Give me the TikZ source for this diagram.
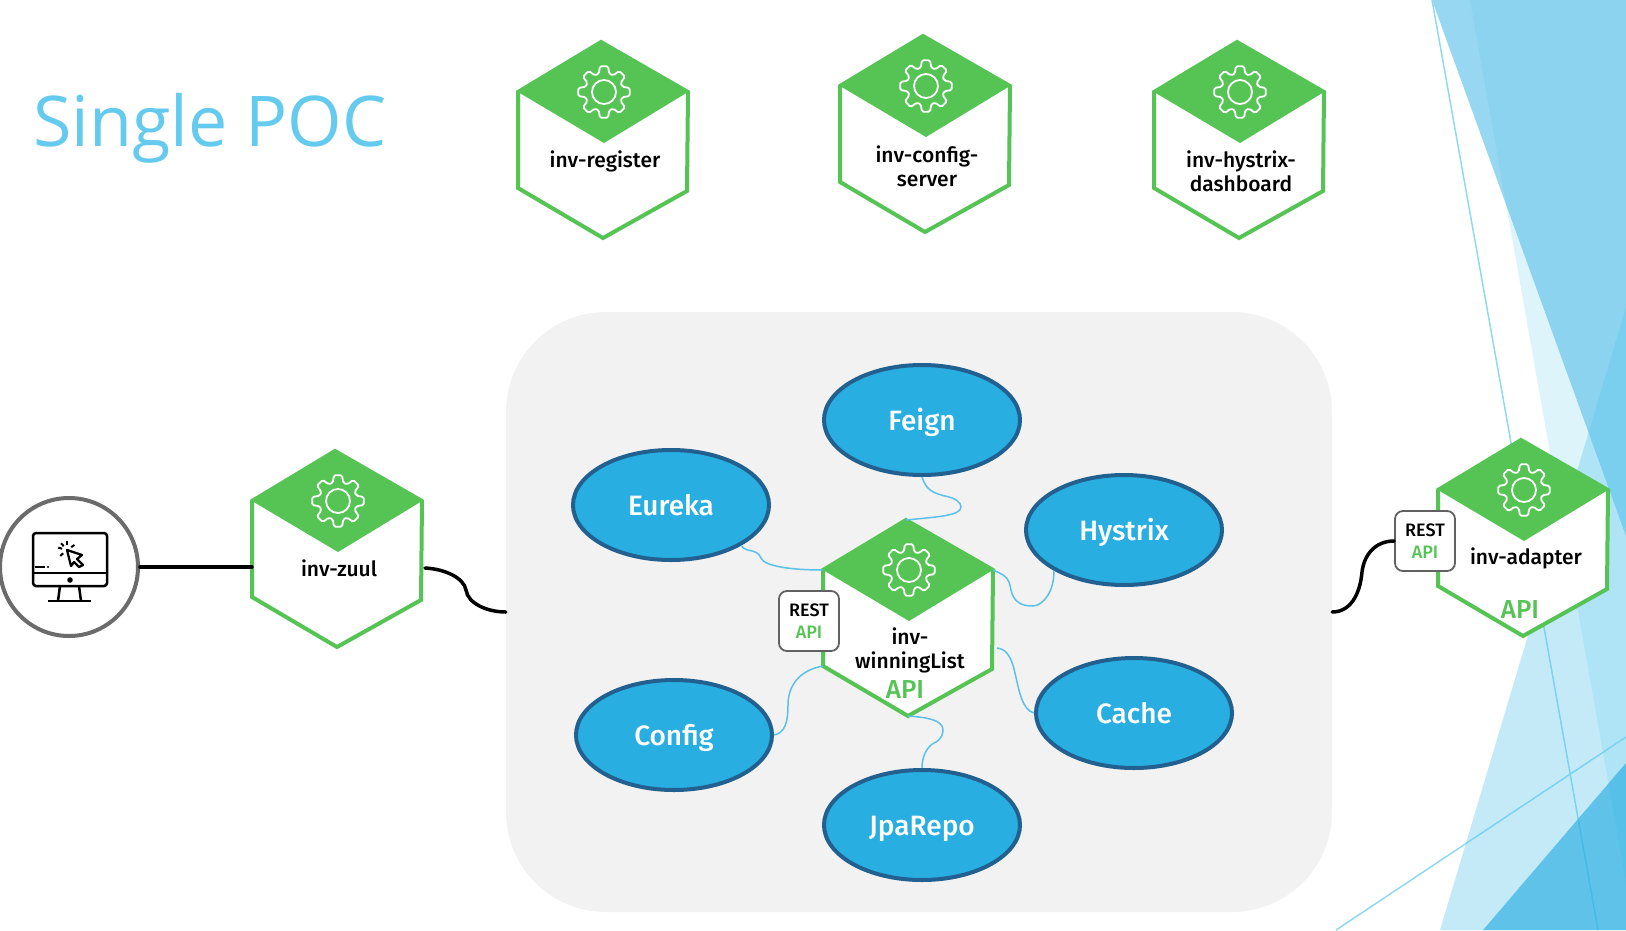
\documentclass[tikz,border=0pt]{standalone}
\usepackage{fontspec}
\setmainfont{Fira Sans Medium}
\newfontfamily\titlefont{Open Sans}
\usetikzlibrary{shapes.geometric}
\definecolor{hexgreen}{HTML}{55C454}
\definecolor{facet}{HTML}{98D7F1}
\definecolor{facetline}{HTML}{8FD9F4}
\definecolor{facetmid}{HTML}{5CC6EC}
\definecolor{titleblue}{HTML}{65CBEE}
\definecolor{wireblue}{HTML}{5CC1EA}
\definecolor{ovalfill}{HTML}{29AEE2}
\definecolor{ovalline}{HTML}{22618F}
\tikzset{
  hexline/.style={draw=hexgreen,line width=4pt,fill=white,line join=miter},
  hextext/.style={align=center,inner sep=0pt,font=\fontsize{21}{24}\selectfont},
  apitext/.style={inner sep=0pt,text=hexgreen,font=\fontsize{26}{28}\selectfont},
  oval/.style={ellipse,draw=ovalline,fill=ovalfill,line width=4pt,inner sep=0pt,text height=20pt,text depth=0pt,
    minimum width=196pt,minimum height=110pt,text=white,font=\fontsize{28}{30}\selectfont},
  restbox/.style={draw=black!62,fill=white,line width=1.8pt,rounded corners=8pt,align=center,
    minimum width=60pt,minimum height=60pt,inner sep=0pt,font=\fontsize{18}{22}\selectfont},
  panelbox/.style={fill=black!5,rounded corners=100pt,minimum width=826pt,minimum height=600pt,inner sep=0pt},
  wire/.style={draw=wireblue,line width=1.5pt},
  blackwire/.style={draw=black,line width=3.5pt,line cap=round},
  gearline/.style={draw=white,line width=1.8pt,rounded corners=1.5pt},
}
\newcommand{\gearicon}{%
  \draw[gearline] (-16:19) \foreach \a in {0,45,...,315} {
    -- (\a-16:19) -- (\a-9:26) -- (\a+9:26) -- (\a+16:19)} -- cycle; %teeth
  \draw[white,line width=1.8pt] (0,0) circle (12); %hub
}
\newcommand{\hexa}[3]{% name, x, y of the gear
  \begin{scope}[shift={(#2,#3)}]
    \draw[hexline] (-3,-50) coordinate (#1-t) -- (84,0) coordinate (#1-r) -- (83,99) coordinate (#1-br)
      -- (-1,146) coordinate (#1-b) -- (-86,96) coordinate (#1-bl) -- (-86,0) coordinate (#1-l) -- cycle; %outline
    \fill[hexgreen] (-3,-50) -- (84,0) -- (0,51) -- (-86,0) -- cycle; %roof
    \gearicon
  \end{scope}
}

\begin{document}
\begin{tikzpicture}[x=1pt,y=-1pt]
  \useasboundingbox (0,0) rectangle (1626,930);

  % background facets
  \fill[facet] (1432,0) -- (1626,0) -- (1626,536) -- cycle;
  \fill[facetmid,opacity=0.2] (1470,0) -- (1626,0) -- (1626,883) -- cycle;
  \draw[facetline,line width=1.5pt] (1432,0) -- (1598,930);
  \draw[facetline,line width=1.5pt] (1336,930) -- (1626,737);
  \fill[facetmid,opacity=0.36] (1440,930) -- (1626,307) -- (1626,930) -- cycle;
  \fill[ovalfill,opacity=0.65] (1483,930) -- (1626,763) -- (1626,930) -- cycle;

  \node[text=titleblue,anchor=base west,inner sep=0pt,font=\titlefont\fontsize{70}{80}\selectfont] (title) at (33,146) {Single POC};

  % top services
  \hexa{reg}{604}{92}
  \node[hextext] (regname) at (605,161) {inv-register};
  \hexa{cfg}{926}{86}
  \node[hextext] (cfgname) at (927,166) {inv-config-\\server};
  \hexa{dash}{1240}{92}
  \node[hextext] (dashname) at (1241,171) {inv-hystrix-\\dashboard};

  \node[panelbox] (panel) at (919,612) {}; %grey panel

  % client
  \node[circle,draw=black!58,fill=white,line width=4pt,minimum size=138pt,inner sep=0pt] (pc) at (69,567) {};
  \draw[black,line width=2.5pt,rounded corners=3pt] (33,533) rectangle (107,586); %screen
  \draw[black,line width=2.5pt] (33,573) -- (107,573);
  \draw[black,line width=2pt] (35,567) -- (45,567);
  \fill[black] (48,567) circle (1.2);
  \fill[black] (70,580) circle (2.8);
  \draw[black,line width=2.5pt] (60,586) -- (58,601) (79,586) -- (81,601);
  \draw[black,line width=2.5pt] (48,601) -- (91,601); %stand
  \draw[black,line width=2.3pt,line join=round] (67,550) -- (82,555) -- (77,559) -- (83,565) -- (79,567) -- (74,562) -- (71,566) -- cycle; %cursor
  \begin{scope}[shift={(67,550)}]
    \foreach \a in {139,195,229,270,326} \draw[black,line width=2pt] (\a:5) -- (\a:9);
  \end{scope}

  % zuul
  \hexa{zuul}{338}{501}
  \node[hextext] (zuulname) at (339,568) {inv-zuul};
  \coordinate (zuulin) at (252,567);
  \coordinate (zuulout) at (425,568);
  \draw[blackwire] (pc.east) -- (zuulin);
  \draw[blackwire] (zuulout) .. controls (445,569) and (464,578) .. (466,590) .. controls (468,604) and (488,612) .. (panel.west);

  % ovals
  \node[oval] (feign) at (922,420) {Feign};
  \node[oval] (eureka) at (671,505) {Eureka};
  \node[oval] (hystrix) at (1124,530) {Hystrix};
  \node[oval] (cache) at (1134,713) {Cache};
  \node[oval] (config) at (674,735) {Config};
  \node[oval] (jparepo) at (922,825) {JpaRepo};

  % winningList
  \hexa{win}{909}{570}
  \node[hextext] (winname) at (910,650) {inv-\\winningList};
  \node[apitext] (winapi) at (905,690) {API};
  \node[restbox] (winrest) at (809,621) {REST\\{\color{hexgreen}API}};
  \coordinate (wincache) at (997,648);

  \draw[wire] (feign.south) .. controls (926,490) and (933,493) .. (945,496) .. controls (955,498) and (961,502) .. (961,507) .. controls (961,516) and (935,517) .. (win-t);
  \draw[wire] (eureka.-30) .. controls (746,553) and (757,548) .. (761,558) .. controls (764,566) and (790,570) .. (win-l);
  \draw[wire] (hystrix.210) .. controls (1055,590) and (1043,606) .. (1033,606) .. controls (1010,606) and (1012,590) .. (1009,582) .. controls (1007,576) and (1000,573) .. (win-r);
  \draw[wire] (config.east) .. controls (785,733) and (788,722) .. (788,705) .. controls (788,685) and (800,670) .. (win-bl);
  \draw[wire] (cache.west) .. controls (1022,710) and (1019,690) .. (1015,673) .. controls (1012,660) and (1008,649) .. (wincache);
  \draw[wire] (jparepo.north) .. controls (922,755) and (928,746) .. (934,743) .. controls (941,740) and (945,733) .. (942,726) .. controls (937,718) and (920,717) .. (win-b);

  % adapter
  \hexa{ada}{1524}{490}
  \node[hextext] (adaname) at (1526,558) {inv-adapter};
  \node[apitext] (adaapi) at (1520,610) {API};
  \node[restbox] (adarest) at (1425,541) {REST\\{\color{hexgreen}API}};
  \draw[blackwire] (adarest.west) .. controls (1375,541) and (1364,555) .. (1362,572) .. controls (1360,595) and (1350,612) .. (panel.east);
\end{tikzpicture}
\end{document}
